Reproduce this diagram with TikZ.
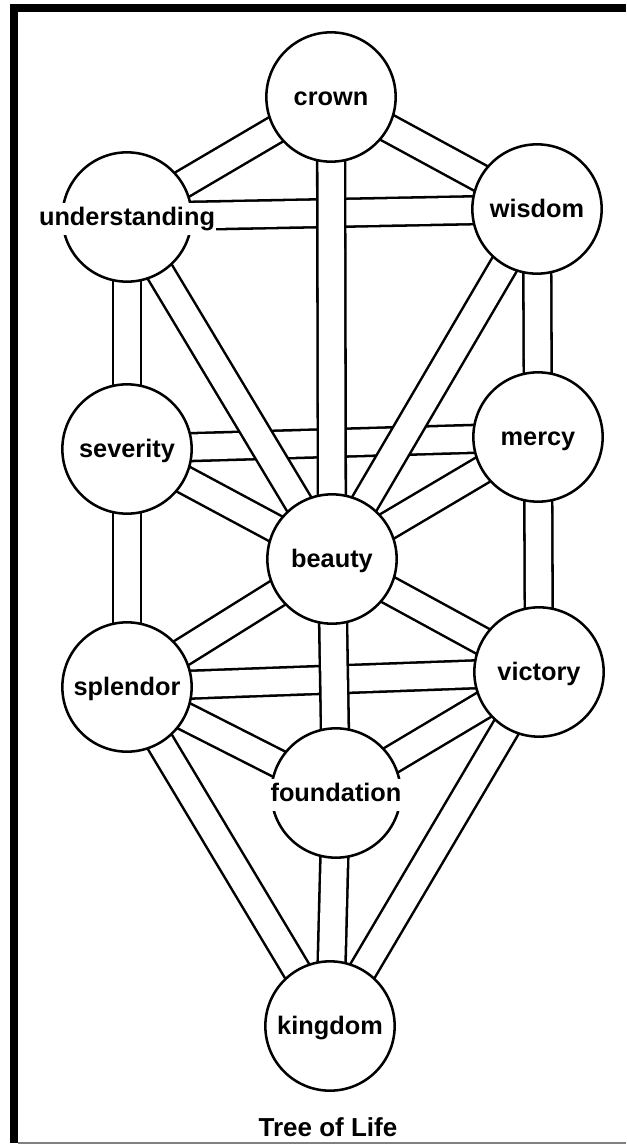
\documentclass[tikz,border=0pt]{standalone}
\usepackage{fontspec}
\setmainfont{Liberation Sans}
\usepackage{tikz}
\usetikzlibrary{positioning,backgrounds}
\tikzstyle{sefira} = [circle, draw, fill=white, line width=1.9pt, minimum size=97pt, inner sep=0pt, font=\bfseries\fontsize{19}{22}\selectfont]
\tikzstyle{channel} = [line width=1.9pt, double=white, double distance=19pt]
\tikzstyle{caption} = [font=\bfseries\fontsize{19.5}{22}\selectfont]
\newcommand{\cutlabel}[1]{\raisebox{0pt}[12.5pt][0pt]{\makebox[0pt]{\setlength{\fboxsep}{1pt}\colorbox{white}{\strut #1}}}}

\begin{document}
\begin{tikzpicture}[x=0.75pt, y=-0.75pt]
    \useasboundingbox (0,0) rectangle (626,1145);
    % Frame
    \fill (10,4) rectangle (626,12);
    \fill (10,4) rectangle (18,1143);
    \draw [gray, line width=1pt] (18,1143) -- (626,1143);

    % Upper triad
    \node [sefira] (crown) at (331,97) {\cutlabel{crown}};
    \node [sefira] (understanding) at (127,217) {\cutlabel{understanding}};
    \node [sefira] (wisdom) at (537,209) {\cutlabel{wisdom}};

    % Middle triad
    \node [sefira] (severity) at (127,449) {\cutlabel{severity}};
    \node [sefira] (mercy) at (538,437) {\cutlabel{mercy}};
    \node [sefira] (beauty) at (332,559) {\cutlabel{beauty}};

    % Lower triad
    \node [sefira] (splendor) at (127,687) {\cutlabel{splendor}};
    \node [sefira] (victory) at (539,672) {\cutlabel{victory}};
    \node [sefira] (foundation) at (336,793) {\cutlabel{foundation}};

    % Base
    \node [sefira] (kingdom) at (330,1026) {\cutlabel{kingdom}};
    \node [caption] (title) at (328,1127) {Tree of Life};

    % Channels
    \begin{scope}[on background layer]
        % horizontal
        \draw [channel] (understanding.center) -- (wisdom.center);
        \draw [channel] (severity.center) -- (mercy.center);
        \draw [channel] (splendor.center) -- (victory.center);
        % diagonal
        \draw [channel] (crown.center) -- (understanding.center);
        \draw [channel] (crown.center) -- (wisdom.center);
        \draw [channel] (understanding.center) -- (beauty.center);
        \draw [channel] (wisdom.center) -- (beauty.center);
        \draw [channel] (severity.center) -- (beauty.center);
        \draw [channel] (mercy.center) -- (beauty.center);
        \draw [channel] (beauty.center) -- (splendor.center);
        \draw [channel] (beauty.center) -- (victory.center);
        \draw [channel] (splendor.center) -- (foundation.center);
        \draw [channel] (victory.center) -- (foundation.center);
        \draw [channel] (splendor.center) -- (kingdom.center);
        \draw [channel] (victory.center) -- (kingdom.center);
        % vertical
        \draw [channel] (crown.center) -- (beauty.center);
        \draw [channel] (beauty.center) -- (foundation.center);
        \draw [channel] (foundation.center) -- (kingdom.center);
        \draw [channel] (understanding.center) -- (severity.center);
        \draw [channel] (severity.center) -- (splendor.center);
        \draw [channel] (wisdom.center) -- (mercy.center);
        \draw [channel] (mercy.center) -- (victory.center);
    \end{scope}
\end{tikzpicture}
\end{document}
